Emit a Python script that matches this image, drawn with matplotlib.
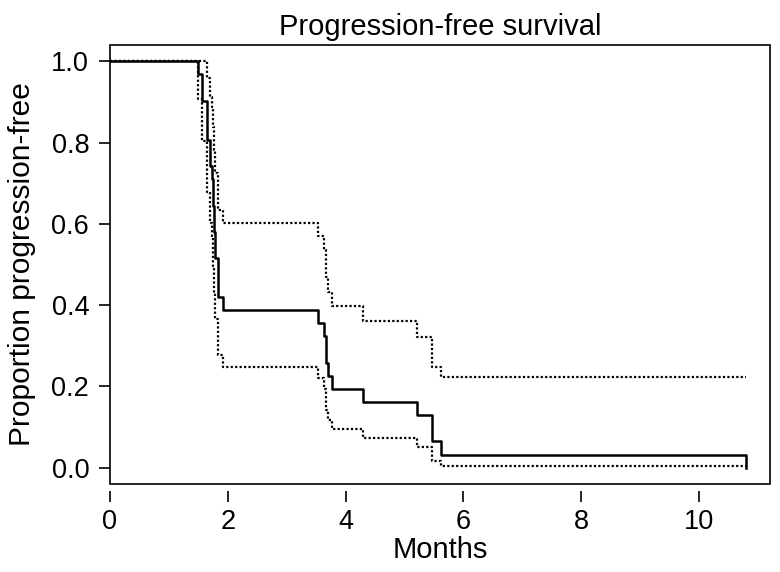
import numpy as np
import matplotlib
matplotlib.use("Agg")
import matplotlib.pyplot as plt
from matplotlib.patches import Rectangle

plt.rcParams['font.family'] = ['Liberation Sans', 'DejaVu Sans']

# Kaplan-Meier curve, months vs proportion progression-free
times = [0, 1.50, 1.56, 1.64, 1.69, 1.73, 1.75, 1.77, 1.79, 1.83, 1.92,
         3.53, 3.63, 3.67, 3.70, 3.76, 4.29, 5.21, 5.47, 5.61, 10.8]
surv = [1.0, 0.968, 0.903, 0.806, 0.742, 0.710, 0.645, 0.581, 0.516, 0.419, 0.387,
        0.355, 0.323, 0.258, 0.226, 0.194, 0.161, 0.129, 0.065, 0.032, 0.0]
# confidence band (dotted)
upper = [1.0, 1.0, 1.0, 0.958, 0.913, 0.889, 0.838, 0.783, 0.726, 0.635, 0.603,
         0.570, 0.537, 0.469, 0.433, 0.397, 0.360, 0.322, 0.247, 0.222, 0.222]
lower = [1.0, 0.907, 0.805, 0.679, 0.603, 0.567, 0.497, 0.431, 0.367, 0.277, 0.249,
         0.221, 0.194, 0.142, 0.118, 0.094, 0.072, 0.052, 0.017, 0.005, 0.005]

xticks = [0, 2, 4, 6, 8, 10]
yticks = [0.0, 0.2, 0.4, 0.6, 0.8, 1.0]

fig = plt.figure(figsize=(7.8, 5.72), dpi=100)
ax = fig.add_axes([0.141, 0.154, 0.846, 0.767])

dots = (0, (1, 1.0))
ax.step(times, upper, where='post', color='black', lw=1.6, linestyle=dots)
ax.step(times, lower, where='post', color='black', lw=1.6, linestyle=dots)
ax.step(times, surv, where='post', color='black', lw=1.8)

ax.set_xlim(0, 11.2)
ax.set_ylim(-0.04, 1.04)

ax.set_xticks(xticks)
ax.set_xticklabels([str(t) for t in xticks])
ax.set_yticks(yticks)
ax.set_yticklabels(['%.1f' % t for t in yticks])

for s in ['left', 'right', 'top']:
    ax.spines[s].set_visible(False)
# x axis ticks hang below the box, R style
ax.spines['bottom'].set_position(('outward', 5))
ax.spines['bottom'].set_color('none')
ax.add_patch(Rectangle((0, 0), 1, 1, transform=ax.transAxes, fill=False,
                       lw=1.2, edgecolor='black', clip_on=False))

ax.tick_params(axis='both', direction='out', length=8, width=1.2,
               labelsize=19.5, color='black')
ax.tick_params(axis='x', pad=5)
ax.tick_params(axis='y', pad=7)

ax.set_xlabel('Months', fontsize=21, labelpad=1)
ax.set_ylabel('Proportion progression-free', fontsize=21.5, labelpad=11)
ax.set_title('Progression-free survival', fontsize=21, pad=7)

fig.savefig('out.png', dpi=100)
